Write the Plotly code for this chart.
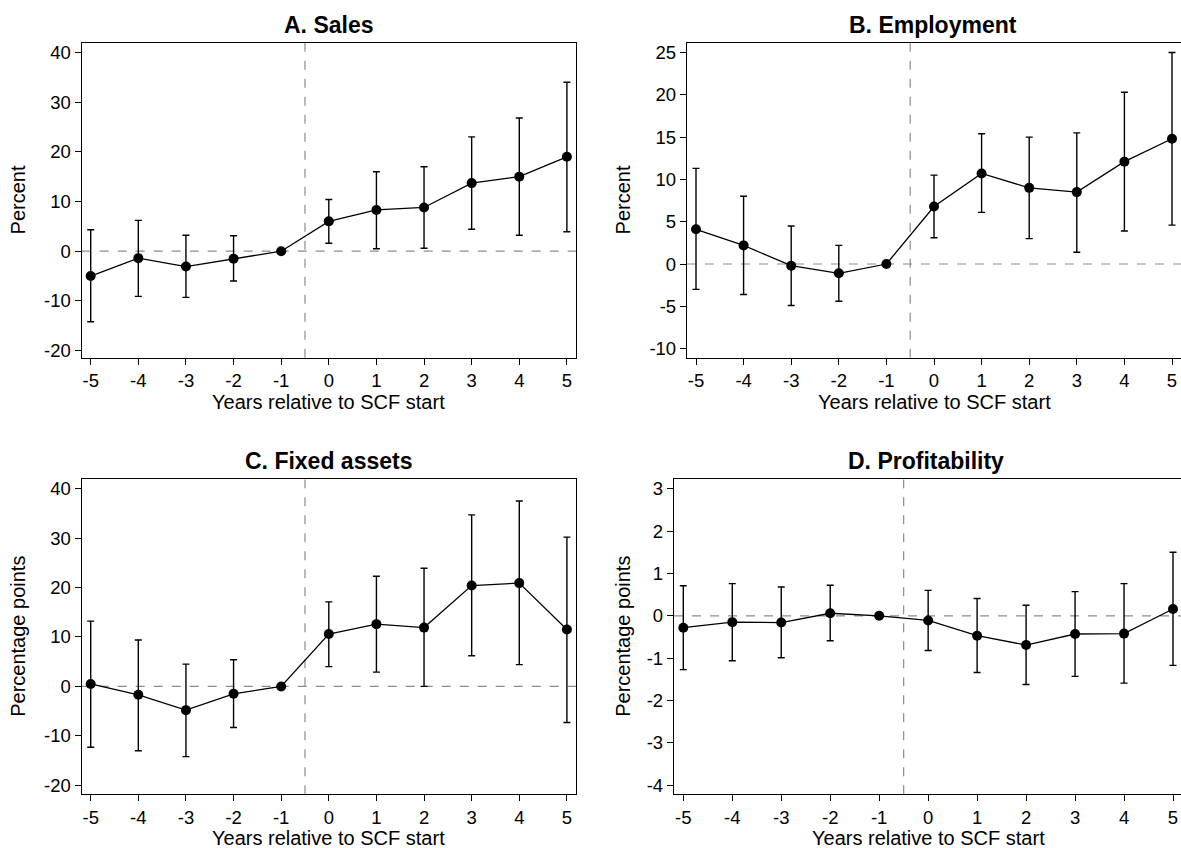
import plotly.graph_objects as go

years = [-5, -4, -3, -2, -1, 0, 1, 2, 3, 4, 5]

sales = [-5.0, -1.4, -3.1, -1.5, 0.0, 6.0, 8.3, 8.8, 13.7, 15.0, 19.0]
sales_lo = [-14.2, -9.1, -9.3, -6.0, 0.0, 1.6, 0.5, 0.6, 4.4, 3.2, 3.9]
sales_hi = [4.3, 6.2, 3.2, 3.1, 0.0, 10.4, 16.0, 17.0, 23.0, 26.8, 34.0]

emp = [4.1, 2.2, -0.2, -1.1, 0.0, 6.8, 10.7, 9.0, 8.5, 12.1, 14.8]
emp_lo = [-3.0, -3.6, -4.9, -4.4, 0.0, 3.1, 6.1, 3.0, 1.4, 3.9, 4.6]
emp_hi = [11.3, 8.0, 4.5, 2.2, 0.0, 10.5, 15.4, 15.0, 15.5, 20.3, 25.0]

fa = [0.5, -1.7, -4.8, -1.5, 0.0, 10.6, 12.6, 11.9, 20.4, 20.9, 11.5]
fa_lo = [-12.3, -13.0, -14.2, -8.3, 0.0, 4.0, 2.9, 0.0, 6.2, 4.4, -7.3]
fa_hi = [13.2, 9.4, 4.5, 5.4, 0.0, 17.1, 22.3, 23.9, 34.7, 37.5, 30.2]

prof = [-0.28, -0.15, -0.16, 0.06, 0.0, -0.11, -0.47, -0.69, -0.43, -0.42, 0.16]
prof_lo = [-1.27, -1.06, -0.99, -0.59, 0.0, -0.82, -1.34, -1.62, -1.43, -1.59, -1.17]
prof_hi = [0.71, 0.76, 0.68, 0.72, 0.0, 0.60, 0.41, 0.25, 0.57, 0.76, 1.50]

titles = ["A. Sales", "B. Employment", "C. Fixed assets", "D. Profitability"]
ytitles = ["Percent", "Percent", "Percentage points", "Percentage points"]
xtitle = "Years relative to SCF start"

yticks = [
    [-20, -10, 0, 10, 20, 30, 40],
    [-10, -5, 0, 5, 10, 15, 20, 25],
    [-20, -10, 0, 10, 20, 30, 40],
    [-4, -3, -2, -1, 0, 1, 2, 3],
]

panels = [
    (sales, sales_lo, sales_hi),
    (emp, emp_lo, emp_hi),
    (fa, fa_lo, fa_hi),
    (prof, prof_lo, prof_hi),
]

W, H = 1181, 848
geo = [
    dict(frame=(81.7, 576, 42.3, 358.5), xt=(90.7, 566.9), yt=(51.7, 351.2),
         ty=24.5, ytx=18, xty=402.5),
    dict(frame=(687, 1181, 42.3, 358.5), xt=(696, 1172), yt=(51.7, 349.3),
         ty=24.5, ytx=623, xty=402.5),
    dict(frame=(81.7, 576, 480.7, 797), xt=(90.7, 566.9), yt=(490, 788),
         ty=461.7, ytx=18, xty=840.5),
    dict(frame=(674, 1181, 480.7, 797), xt=(683.3, 1173), yt=(490, 788),
         ty=461.7, ytx=623, xty=840.5),
]
FONT = "Liberation Sans, Arial, sans-serif"

fig = go.Figure()
layout = dict(
    width=W, height=H,
    margin=dict(l=0, r=0, t=0, b=0),
    paper_bgcolor="white", plot_bgcolor="white",
    showlegend=False,
    font=dict(family=FONT, color="black", size=16),
    annotations=[], shapes=[],
)

for i, ((y, lo, hi), g) in enumerate(zip(panels, geo)):
    n = i + 1
    xa = "x" if n == 1 else f"x{n}"
    ya = "y" if n == 1 else f"y{n}"
    plus = [h - v for h, v in zip(hi, y)]
    minus = [v - q for v, q in zip(y, lo)]
    fig.add_trace(go.Scatter(
        x=years, y=y, xaxis=xa, yaxis=ya,
        mode="lines+markers",
        line=dict(color="black", width=1.3),
        marker=dict(color="black", size=10),
        error_y=dict(type="data", symmetric=False, array=plus, arrayminus=minus,
                     color="black", thickness=1.4, width=3.5),
        cliponaxis=False,
    ))
    l, r, t, b = g["frame"]
    tv = yticks[i]
    ytop_px, ybot_px = g["yt"]
    yunit = (tv[-1] - tv[0]) / (ybot_px - ytop_px)
    yr = [tv[0] - (b - ybot_px) * yunit, tv[-1] + (ytop_px - t) * yunit]
    x0px, x1px = g["xt"]
    xunit = 10 / (x1px - x0px)
    xr = [-5 - (x0px - l) * xunit, 5 + (r - x1px) * xunit]

    xdom = [l / W, min(r / W, 1.0)]
    ydom = [1 - b / H, 1 - t / H]
    right_open = r >= W
    axis_common = dict(showline=True, linecolor="black", linewidth=1.3,
                       showgrid=False, zeroline=False, ticks="outside", ticklen=6,
                       tickwidth=1.2, tickcolor="black",
                       tickfont=dict(size=18.5, family=FONT, color="black"))
    layout["xaxis" if n == 1 else f"xaxis{n}"] = dict(
        domain=xdom, range=xr, anchor=ya, tickvals=years,
        ticktext=[str(v) for v in years], mirror=True, **axis_common)
    layout["yaxis" if n == 1 else f"yaxis{n}"] = dict(
        domain=ydom, range=yr, anchor=xa, tickvals=tv,
        ticktext=[str(v) for v in tv], mirror=(not right_open), **axis_common)
    layout["annotations"].append(dict(
        text=f"<b>{titles[i]}</b>",
        x=((l + r) / 2 if not right_open else (l + 1178) / 2) / W,
        y=1 - g["ty"] / H, xref="paper", yref="paper",
        xanchor="center", yanchor="middle", showarrow=False,
        font=dict(size=23, family=FONT, color="black")))
    xc = (x0px + x1px) / 2
    layout["annotations"].append(dict(
        text=xtitle, x=xc / W, y=1 - g["xty"] / H, xref="paper", yref="paper",
        xanchor="center", yanchor="middle", showarrow=False,
        font=dict(size=20, family=FONT, color="black")))
    layout["annotations"].append(dict(
        text=ytitles[i], x=g["ytx"] / W, y=1 - (t + b) / 2 / H, xref="paper", yref="paper",
        xanchor="center", yanchor="middle", showarrow=False, textangle=-90,
        font=dict(size=20, family=FONT, color="black")))
    layout["shapes"].append(dict(
        type="line", xref=xa, yref=f"{ya} domain", x0=-0.5, x1=-0.5, y0=0, y1=1,
        line=dict(color="#8c8c8c", width=1.2, dash="dash"), layer="below"))
    layout["shapes"].append(dict(
        type="line", xref=f"{xa} domain", yref=ya, x0=0, x1=1, y0=0, y1=0,
        line=dict(color="#8c8c8c", width=1.2, dash="dash"), layer="below"))

fig.update_layout(**layout)
fig.write_html("out.html", config={"displayModeBar": False},
               post_script="document.body.style.margin='0px';document.body.style.overflow='hidden';")
